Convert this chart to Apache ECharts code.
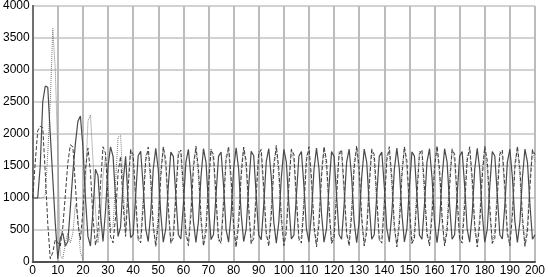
<!DOCTYPE html>
<html>
<head>
<meta charset="utf-8">
<script src="https://cdn.jsdelivr.net/npm/echarts@6/dist/echarts.min.js"></script>
<style>
html,body{margin:0;padding:0;background:#fff;}
#chart{width:548px;height:277px;}
</style>
</head>
<body>
<div id="chart"></div>
<script>
// x runs 0..200 in steps of 1
const xMin = 0, xMax = 200;
const solidValues = [
1000,1000,1000,1500,2500,2750,2730,2000,1300,600,
50,380,450,250,320,850,1400,1850,2200,2280,
1800,1000,400,250,800,1450,1350,750,320,800,
1500,1800,1650,1000,400,550,1250,1650,950,380,
430,
1040,1660,1730,1180,520,320,760,1450,1775,1445,750,310,520,1190,1720,1650,1035,430,360,900,1560,1760,1320,630,305,635,1330,1770,1560,890,350,430,
1050,1650,1720,1190,510,310,750,1455,1785,1450,760,320,515,1180,1730,1660,1045,420,350,890,1570,1770,1325,625,295,625,1320,1760,1565,900,360,420,
1035,1655,1725,1185,515,315,755,1445,1780,1455,755,310,520,1185,1725,1650,1040,425,355,895,1560,1765,1320,630,300,630,1325,1765,1560,895,355,425,
1045,1650,1720,1180,520,315,760,1450,1780,1450,760,315,520,1180,1720,1655,1040,420,355,900,1565,1770,1320,625,300,625,1320,1770,1565,895,355,425,
1040,1655,1725,1185,515,310,755,1450,1775,1450,755,310,515,1185,1725,1655,1040,425,360,895,1560,1765,1325,630,305,630,1325,1765,1560,895,355,425
];
const dashedValues = [
1000,1550,2050,2120,2100,1400,600,50,150,350,
300,250,550,1050,1550,1830,1800,1200,600,350,
800,1450,1780,1400,700,260,500,1200,1800,1700,
1000,400,300,700,1400,1650,900,400,1150,1750,
1680,
1025,370,300,870,1580,1795,1330,590,240,590,1325,1800,1585,875,300,370,1020,1680,1750,1180,470,255,725,1460,1810,1465,720,250,470,1175,1750,1680,
1030,365,290,875,1585,1805,1325,585,230,585,1330,1795,1580,870,290,365,1030,1685,1760,1175,460,245,720,1465,1820,1460,725,255,465,1180,1760,1685,
1020,370,295,870,1580,1800,1330,590,235,590,1325,1800,1585,870,295,370,1025,1680,1755,1180,465,250,725,1465,1815,1465,720,250,465,1180,1755,1680,
1025,365,295,870,1585,1800,1325,585,235,585,1330,1800,1580,875,295,365,1025,1685,1755,1175,465,250,720,1460,1815,1460,725,250,470,1175,1755,1685,
1025,370,295,875,1580,1800,1330,590,235,590,1325,1805,1585,870,295,370,1020,1680,1750,1180,470,250,725,1465,1810,1465,720,245,465,1180,1750,1680
];
const dottedValues = [
1000,1000,1000,1000,1000,1050,1700,2500,3650,3000,
1700,100,50,300,450,300,450,900,700,150,
30,1200,2200,2300,1600,800,300,650,1350,1650,
1200,500,550,1250,1950,1980,1200,450,1300,1770,
1570,
880,330,400,1030,1660,1730,1180,495,285,740,1450,1790,1455,740,285,490,1175,1730,1665,1030,400,330,880,1565,1775,1320,610,270,610,1320,1775,1565,
885,325,395,1035,1665,1735,1175,490,280,735,1455,1795,1450,735,290,495,1180,1735,1660,1025,395,325,885,1570,1780,1325,605,265,605,1325,1770,1570,
880,330,400,1030,1660,1730,1180,495,285,740,1450,1785,1450,740,285,495,1180,1730,1660,1030,400,330,880,1565,1775,1320,610,270,610,1320,1775,1565,
885,330,395,1030,1665,1730,1175,495,285,735,1450,1790,1455,740,280,490,1175,1735,1665,1030,395,330,885,1570,1775,1320,605,270,610,1325,1775,1570,
880,325,400,1035,1660,1735,1180,490,285,740,1455,1790,1450,735,285,495,1180,1730,1660,1025,400,325,880,1565,1780,1320,610,265,605,1320,1770,1565
];

function pairs(vals){ return vals.map((v,i)=>[xMin+i, v]); }

const chart = echarts.init(document.getElementById('chart'), null, {renderer:'canvas'});
const font = 'Liberation Sans, Arial, sans-serif';
const plain = v => String(v);
chart.setOption({
  animation:false,
  backgroundColor:'#ffffff',
  grid:{left:32, right:11, top:6, bottom:13, show:true, borderColor:'#8a8a8a', borderWidth:1},
  xAxis:[{
    type:'value', min:xMin, max:xMax, interval:10,
    axisLine:{show:true, onZero:false, lineStyle:{color:'#505050', width:2}},
    axisTick:{show:false},
    axisLabel:{color:'#000', fontSize:12, fontFamily:font, margin:3, formatter:plain},
    splitLine:{show:true, lineStyle:{color:'#bcbcbc', width:2}}
  }],
  yAxis:[{
    type:'value', min:0, max:4000, interval:500,
    axisLine:{show:true, onZero:false, lineStyle:{color:'#505050', width:2}},
    axisTick:{show:false},
    axisLabel:{color:'#000', fontSize:12, fontFamily:font, margin:3, formatter:plain},
    splitLine:{show:true, lineStyle:{color:'#d2d2d2', width:2}}
  },{
    type:'value', min:0, max:4000, interval:500, position:'right',
    axisLine:{show:true, lineStyle:{color:'#707070', width:2}},
    axisTick:{show:false}, axisLabel:{show:false}, splitLine:{show:false}
  }],
  series:[
    {type:'line', data:pairs(dottedValues), symbol:'none', z:2,
     lineStyle:{color:'#7a7a7a', width:1, type:[1,1]}},
    {type:'line', data:pairs(dashedValues), symbol:'none', z:3,
     lineStyle:{color:'#3c3c3c', width:1, type:[4,2]}},
    {type:'line', data:pairs(solidValues), symbol:'none', z:4,
     lineStyle:{color:'#4a4a4a', width:1.2}}
  ]
});
</script>
</body>
</html>
